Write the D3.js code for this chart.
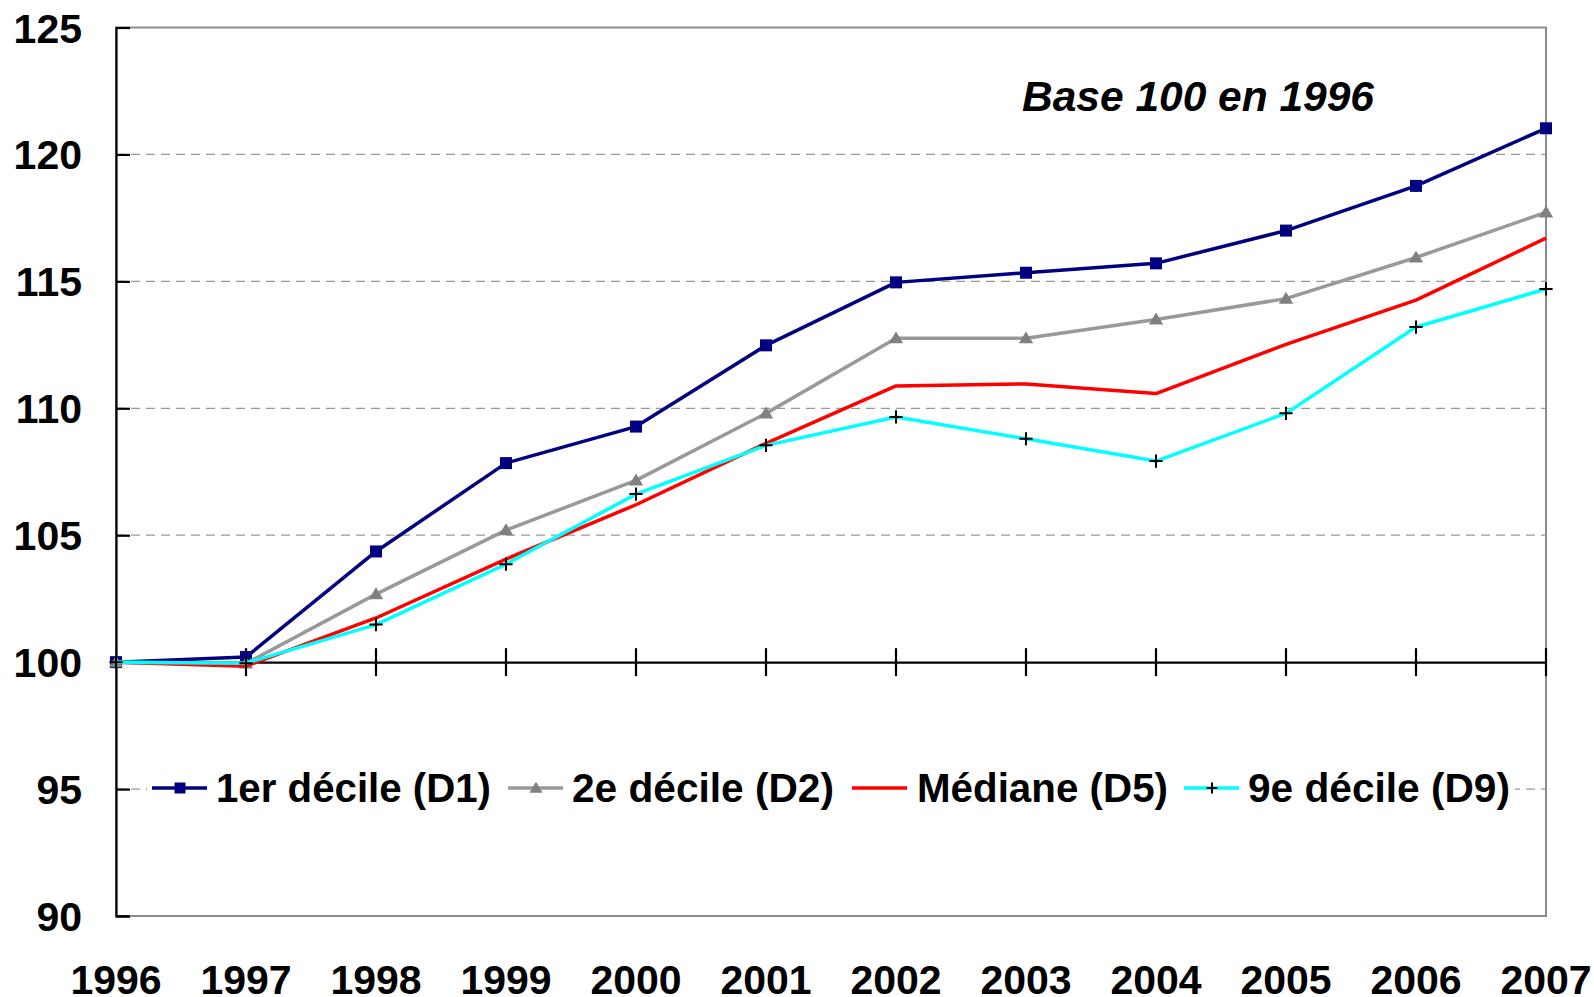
<!DOCTYPE html>
<html><head><meta charset="utf-8">
<script src="https://cdn.jsdelivr.net/npm/d3@7"></script>
<style>
html,body{margin:0;padding:0;background:#fff;}
svg{display:block;font-family:"Liberation Sans",Arial,sans-serif;font-weight:bold;}
</style></head>
<body>
<svg id="chart" width="1594" height="997"></svg>
<script>
const years = [1996,1997,1998,1999,2000,2001,2002,2003,2004,2005,2006,2007];
const d1 = [100,100.2,104.36,107.84,109.28,112.48,114.96,115.34,115.71,117.0,118.76,121.03];
const d2 = [100,99.95,102.68,105.2,107.16,109.8,112.76,112.76,113.5,114.32,115.94,117.72];
const d5 = [100,99.84,101.74,104.06,106.2,108.62,110.88,110.96,110.58,112.52,114.26,116.7];
const d9 = [100,99.96,101.48,103.86,106.62,108.54,109.66,108.8,107.92,109.8,113.2,114.7];
const yTicks = [90,95,100,105,110,115,120,125];
const gridVals = [95,105,110,115,120];
const seriesNames = ["1er décile (D1)","2e décile (D2)","Médiane (D5)","9e décile (D9)"];
const title = "Base 100 en 1996";

const series = [
  {name:seriesNames[0], values:d1, color:"#000080", marker:"square", mcolor:"#000080"},
  {name:seriesNames[1], values:d2, color:"#999999", marker:"triangle", mcolor:"#808080"},
  {name:seriesNames[2], values:d5, color:"#FF0000", marker:"none", mcolor:"#FF0000"},
  {name:seriesNames[3], values:d9, color:"#00FFFF", marker:"plus", mcolor:"#000000"}
];

const svg = d3.select("#chart");
const L=116, R=1546, T=27.5, B=916;
const x = d3.scaleLinear().domain([1996,2007]).range([L,R]);
const y = d3.scaleLinear().domain([90,125]).range([B,T]);
const FS = 41;

// gridlines
svg.append("g").selectAll("line").data(gridVals).join("line")
  .attr("x1",L).attr("x2",R).attr("y1",d=>y(d)).attr("y2",d=>y(d))
  .attr("stroke","#999").attr("stroke-width",1.3).attr("stroke-dasharray","9,6");

// plot border (gray)
svg.append("rect").attr("x",L).attr("y",T).attr("width",R-L).attr("height",B-T)
  .attr("fill","none").attr("stroke","#8c8c8c").attr("stroke-width",2);

// y axis
const yAxis = svg.append("g").attr("transform",`translate(${L},0)`)
  .call(d3.axisRight(y).tickValues(yTicks).tickSize(14).tickFormat(""));
yAxis.select(".domain").attr("stroke","#000").attr("stroke-width",2.2);
yAxis.selectAll(".tick line").attr("stroke","#000").attr("stroke-width",2.2);

svg.append("g").selectAll("text").data(yTicks).join("text")
  .attr("x",82).attr("y",d=>y(d)+15).attr("text-anchor","end")
  .attr("font-size",FS).attr("fill","#000").text(d=>d);

// x axis at 100
const xAxis = svg.append("g").attr("transform",`translate(0,${y(100)})`)
  .call(d3.axisBottom(x).tickValues(years).tickSize(0).tickFormat(""));
xAxis.select(".domain").attr("stroke","#000").attr("stroke-width",2.2);
svg.append("g").selectAll("line").data(years.slice(1)).join("line")
  .attr("x1",d=>x(d)).attr("x2",d=>x(d)).attr("y1",y(100)-14).attr("y2",y(100)+14)
  .attr("stroke","#000").attr("stroke-width",2.2);

svg.append("g").selectAll("text").data(years).join("text")
  .attr("x",d=>x(d)).attr("y",994).attr("text-anchor","middle")
  .attr("font-size",FS).attr("fill","#000").text(d=>d);

// title
svg.append("text").attr("x",1022).attr("y",111).attr("font-size",42)
  .attr("textLength",352).attr("lengthAdjust","spacingAndGlyphs")
  .attr("font-style","italic").attr("fill","#000").text(title);

function drawMarker(g, type, cx, cy, color, s){
  if(type==="square"){
    g.append("rect").attr("x",cx-s/2).attr("y",cy-s/2).attr("width",s).attr("height",s).attr("fill",color);
  } else if(type==="triangle"){
    const h=s*0.95;
    g.append("path").attr("d",`M${cx},${cy-h*0.6}L${cx+s*0.6},${cy+h*0.45}L${cx-s*0.6},${cy+h*0.45}Z`).attr("fill",color);
  } else if(type==="plus"){
    g.append("path").attr("d",`M${cx-s*0.55},${cy}H${cx+s*0.55}M${cx},${cy-s*0.55}V${cy+s*0.55}`)
      .attr("stroke",color).attr("stroke-width",2);
  }
}

const line = d3.line().x((d,i)=>x(years[i])).y(d=>y(d));
series.forEach(s=>{
  const g = svg.append("g");
  g.append("path").datum(s.values).attr("d",line).attr("fill","none")
    .attr("stroke",s.color).attr("stroke-width",3.5).attr("stroke-linejoin","round");
  s.values.forEach((v,i)=>drawMarker(g,s.marker,x(years[i]),y(v),s.mcolor,12));
});

// legend
const lg = svg.append("g");
lg.append("rect").attr("x",147).attr("y",762).attr("width",1368).attr("height",52).attr("fill","#fff");
const legX = [152,508,852,1184];
const legTextW = [275,262,251,262];
series.forEach((s,i)=>{
  const lx = legX[i], ly = 788;
  lg.append("line").attr("x1",lx).attr("x2",lx+55).attr("y1",ly).attr("y2",ly)
    .attr("stroke",s.color).attr("stroke-width",3.5);
  drawMarker(lg,s.marker,lx+28,ly,s.mcolor,i===3?10:11);
  lg.append("text").attr("x",lx+(i===2?65:64)).attr("y",802).attr("font-size",FS)
    .attr("textLength",legTextW[i]).attr("lengthAdjust","spacingAndGlyphs")
    .attr("fill","#000").text(s.name);
});
</script>
</body></html>
